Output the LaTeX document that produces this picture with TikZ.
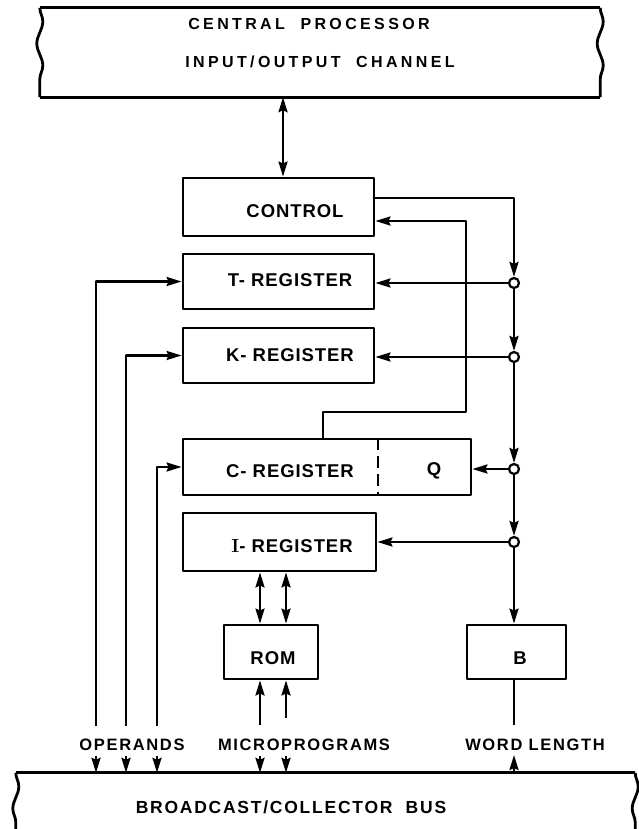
\documentclass[tikz,border=0pt]{standalone}
\usepackage{fontspec}
\newfontfamily\lblfont{Liberation Sans}[LetterSpace=5]
\newfontfamily\midfont{Liberation Sans}[LetterSpace=10]
\newfontfamily\widefont{Liberation Sans}[LetterSpace=21]
\usetikzlibrary{arrows.meta,decorations.pathmorphing}

\tikzset{
  box/.style={draw, line width=2.8pt, inner sep=0pt},
  edge/.style={line width=2.8pt},
  wavy/.style={line width=2.8pt, decorate, decoration={snake, amplitude=3pt, segment length=44pt}},
  tip/.tip={Stealth[length=15pt,width=9pt,inset=2pt]},
  arr/.style={-tip, line width=2.4pt},
  arrs/.style={tip-tip, line width=2.4pt},
  jn/.style={circle, draw, fill=white, line width=2.2pt, inner sep=0pt, minimum size=10pt},
  txt/.style={font=\lblfont\bfseries\fontsize{18.5}{21}\selectfont, inner sep=0pt},
  big/.style={font=\widefont\bfseries\fontsize{16}{19}\selectfont, inner sep=0pt},
  small/.style={font=\midfont\bfseries\fontsize{16.5}{19}\selectfont, inner sep=0pt},
  bustext/.style={font=\midfont\bfseries\fontsize{17.5}{20}\selectfont, inner sep=0pt}
}

\begin{document}
\begin{tikzpicture}[x=1pt,y=-1pt,line join=round]
  \useasboundingbox (0,0) rectangle (638,829);

  % channel at the top
  \node[minimum width=560pt, minimum height=89pt, inner sep=0pt] (cpu) at (320,52.5) {};
  \draw[edge] (cpu.north west) -- (cpu.north east);
  \draw[edge] (cpu.south west) -- (cpu.south east);
  \draw[wavy] (cpu.north west) -- (cpu.south west);
  \draw[wavy] (cpu.north east) -- (cpu.south east);
  \node[big] (cpuA) at (309,24) {CENTRAL\ \ PROCESSOR};
  \node[big] (cpuB) at (320,62) {INPUT/OUTPUT\ \ CHANNEL};

  % bus at the bottom
  \node[minimum width=619pt, minimum height=70pt, inner sep=0pt] (bus) at (325.5,808) {};
  \draw[edge] (bus.north west) -- (bus.north east);
  \draw[wavy] (bus.north west) -- (bus.south west);
  \draw[wavy] (bus.north east) -- (bus.south east);
  \node[bustext] (busA) at (291,807) {BROADCAST/COLLECTOR\ \ BUS};

  % registers
  \node[box, minimum width=191pt, minimum height=58pt] (ctrl) at (278.5,207) {};
  \node[txt] (ctrlA) at (295,211) {CONTROL};
  \node[box, minimum width=191pt, minimum height=55pt] (treg) at (278.5,281.5) {};
  \node[txt] (tregA) at (290,280) {T- REGISTER};
  \node[box, minimum width=191pt, minimum height=55pt] (kreg) at (278.5,355.5) {};
  \node[txt] (kregA) at (290,355) {K- REGISTER};
  \node[box, minimum width=288pt, minimum height=56pt] (creg) at (327,467) {};
  \draw[line width=2.2pt, dash pattern=on 12pt off 6pt] (creg.north -| 378,0) -- (creg.south -| 378,0);
  \node[txt] (cregA) at (290,471) {C- REGISTER};
  \node[txt] (q) at (434,471) {Q};
  \node[box, minimum width=193pt, minimum height=58pt] (ireg) at (279.5,542) {};
  \node[txt] (iregA) at (292,546) {{\normalfont\bfseries\fontsize{19}{21}\selectfont I}- REGISTER};
  \node[box, minimum width=94pt, minimum height=54pt] (rom) at (271,652) {};
  \node[txt] (romA) at (273,658) {ROM};
  \node[box, minimum width=99pt, minimum height=54pt] (bbox) at (516.5,652) {};
  \node[txt] (bA) at (520,658) {B};

  % labels over the bus
  \node[small] (opl) at (132,745) {OPERANDS};
  \node[small] (mpl) at (304,745) {MICROPROGRAMS};
  \node[small] (wll) at (535,745) {WORD LENGTH};

  % junctions on the right line
  \coordinate (ctop) at (514,198);
  \node[jn] (j1) at (514,283) {};
  \node[jn] (j2) at (514,357) {};
  \node[jn] (j3) at (514,469) {};
  \node[jn] (j4) at (514,542) {};

  % channel to control
  \coordinate (io) at (283,0);
  \draw[arrs] (cpu.south -| io) -- (ctrl.north -| io);

  % control out to the registers
  \draw[arr] (ctrl.east |- ctop) -- (ctop) -- (j1);
  \draw[arr] (j1) -- (j2);
  \draw[arr] (j2) -- (j3);
  \draw[arr] (j3) -- (j4);
  \draw[arr] (j4) -- (bbox.north -| j4);
  \draw[arr] (j1) -- (treg.east |- j1);
  \draw[arr] (j2) -- (kreg.east |- j2);
  \draw[arr] (j3) -- (creg.east |- j3);
  \draw[arr] (j4) -- (ireg.east |- j4);

  % C back to control
  \coordinate (fb1) at (466,221);
  \coordinate (fb2) at (466,412);
  \coordinate (fb3) at (323,412);
  \draw[arr] (creg.north -| fb3) -- (fb3) -- (fb2) -- (fb1) -- (ctrl.east |- fb1);

  % operands
  \coordinate (oa) at (96,726);
  \coordinate (ob) at (126,726);
  \coordinate (oc) at (157,726);
  \draw[arr] (oa) |- (treg.west);
  \draw[arr] (ob) |- (kreg.west);
  \draw[arr] (oc) |- (creg.west);

  % microprograms
  \coordinate (md) at (260,725);
  \coordinate (me) at (286,718);
  \draw[arrs] (ireg.south -| md) -- (rom.north -| md);
  \draw[arrs] (ireg.south -| me) -- (rom.north -| me);
  \draw[arr] (md) -- (rom.south -| md);
  \draw[arr] (me) -- (rom.south -| me);

  % word length
  \coordinate (wl) at (514,725);
  \draw[line width=2.4pt] (bbox.south -| wl) -- (wl);

  % stubs on the bus
  \foreach \n/\x in {a/96,b/126,c/157,d/260,e/286} {
    \coordinate (s\n) at (\x,756);
    \draw[arr] (s\n) -- (s\n |- bus.north);
  }
  \coordinate (sw) at (514,755);
  \draw[arr] (sw |- bus.north) -- (sw);
\end{tikzpicture}
\end{document}
